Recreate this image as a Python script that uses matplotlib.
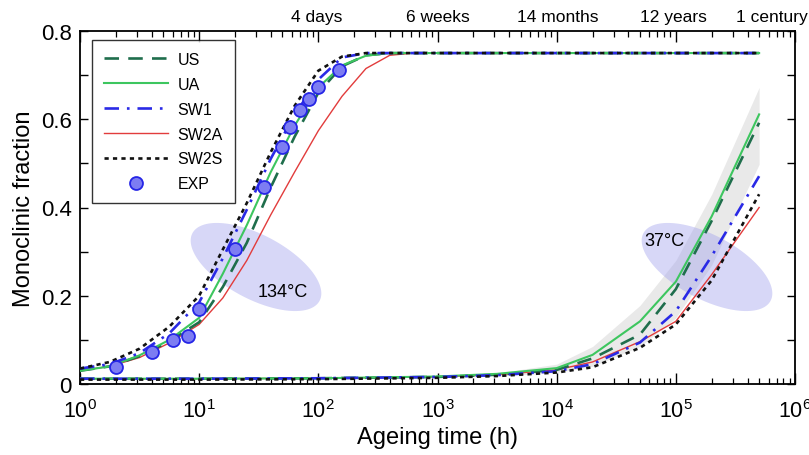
import numpy as np
import matplotlib
matplotlib.use("Agg")
import matplotlib.pyplot as plt
from matplotlib.patches import Polygon
from matplotlib.lines import Line2D
from matplotlib.transforms import ScaledTranslation

plt.rcParams['font.family'] = ['Liberation Sans', 'DejaVu Sans']
plt.rcParams['mathtext.fontset'] = 'custom'
plt.rcParams['mathtext.rm'] = 'Liberation Sans'
plt.rcParams['mathtext.it'] = 'Liberation Sans'

# ---------------- data ----------------
# 134 C ageing curves
t134 = [1, 1.78, 3.16, 5.62, 10, 15.8, 25.1, 39.8, 63.1, 100, 158, 251, 398, 631, 1000, 1e4, 1e5, 5e5]
us134 = [0.030, 0.040, 0.063, 0.097, 0.140, 0.220, 0.320, 0.445, 0.560, 0.660, 0.720, 0.745, 0.750, 0.750, 0.750, 0.750, 0.750, 0.750]
ua134 = [0.030, 0.040, 0.065, 0.100, 0.150, 0.250, 0.360, 0.480, 0.585, 0.672, 0.722, 0.744, 0.750, 0.750, 0.750, 0.750, 0.750, 0.750]
sw1_134 = [0.035, 0.045, 0.070, 0.115, 0.185, 0.285, 0.395, 0.510, 0.610, 0.690, 0.740, 0.750, 0.750, 0.750, 0.750, 0.750, 0.750, 0.750]
sw2a134 = [0.030, 0.040, 0.060, 0.093, 0.135, 0.195, 0.280, 0.383, 0.480, 0.574, 0.652, 0.715, 0.745, 0.750, 0.750, 0.750, 0.750, 0.750]
sw2s134 = [0.035, 0.050, 0.080, 0.130, 0.200, 0.305, 0.410, 0.525, 0.630, 0.710, 0.742, 0.750, 0.750, 0.750, 0.750, 0.750, 0.750, 0.750]

# 37 C ageing curves
t37 = [1, 10, 100, 1000, 3162, 1e4, 2e4, 5e4, 1e5, 2e5, 5e5]
us37 = [0.012, 0.012, 0.013, 0.016, 0.021, 0.032, 0.058, 0.112, 0.215, 0.370, 0.592]
ua37 = [0.012, 0.012, 0.013, 0.017, 0.023, 0.036, 0.066, 0.142, 0.232, 0.380, 0.611]
sw1_37 = [0.012, 0.012, 0.013, 0.016, 0.020, 0.029, 0.045, 0.094, 0.165, 0.290, 0.471]
sw2a37 = [0.012, 0.012, 0.013, 0.016, 0.021, 0.032, 0.050, 0.096, 0.142, 0.248, 0.400]
sw2s37 = [0.010, 0.010, 0.011, 0.014, 0.018, 0.026, 0.038, 0.082, 0.135, 0.235, 0.430]

# uncertainty band at 37 C
t_band = [3162, 1e4, 2e4, 5e4, 1e5, 2e5, 5e5]
band_hi = [0.025, 0.045, 0.085, 0.178, 0.280, 0.430, 0.672]
band_lo = [0.018, 0.026, 0.040, 0.085, 0.150, 0.270, 0.498]

# experimental points
t_exp = [2, 4, 6, 8, 10, 20, 35, 50, 58, 70, 84, 100, 148]
f_exp = [0.039, 0.073, 0.100, 0.109, 0.170, 0.306, 0.446, 0.536, 0.583, 0.620, 0.645, 0.674, 0.712]

# top-axis time labels
top_ticks = [96, 1008, 10220, 105120, 876600]
top_labels = ['4 days', '6 weeks', '14 months', '12 years', '1 century']

series = ['US', 'UA', 'SW1', 'SW2A', 'SW2S']

# ---------------- figure ----------------
W, H = 809, 456
fig = plt.figure(figsize=(W / 100, H / 100), dpi=100)
ax_l, ax_b, ax_r, ax_t = 80, 71, 795, 424   # pixel geometry of the axes box
ax = fig.add_axes([ax_l / W, ax_b / H, (ax_r - ax_l) / W, (ax_t - ax_b) / H])
ax.set_xscale('log')
ax.set_xlim(1, 1e6)
ax.set_ylim(0, 0.8)
axw, axh = ax_r - ax_l, ax_t - ax_b

def axpos(px, py):
    return (px - ax_l) / axw, (H - py - ax_b) / axh

# band
ax.fill_between(t_band, band_lo, band_hi, color='#e9e9e9', lw=0, zorder=1)

# ellipses (drawn in pixel space, converted to axes fraction)
def ellipse(cx_px, cy_px, a, b, ang):
    th = np.linspace(0, 2 * np.pi, 200)
    r = np.deg2rad(ang)
    x = a * np.cos(th) * np.cos(r) - b * np.sin(th) * np.sin(r)
    y = a * np.cos(th) * np.sin(r) + b * np.sin(th) * np.cos(r)
    px = (cx_px - ax_l + x) / axw
    py = (H - cy_px - ax_b + y) / axh
    ax.add_patch(Polygon(np.column_stack([px, py]), closed=True, transform=ax.transAxes,
                         facecolor='#a0a0ec', alpha=0.42, edgecolor='none', zorder=2))

ellipse(256, 268, 72, 32, -28)
ellipse(707, 268, 72, 32, -28)

styles = {
    'US':   dict(color='#1f6e4c', lw=1.9, dashes=(5.5, 3.5)),
    'UA':   dict(color='#3dc65f', lw=1.5),
    'SW1':  dict(color='#2a2ae6', lw=1.9, dashes=(5.5, 3, 1, 3)),
    'SW2A': dict(color='#e23c3c', lw=1.0),
    'SW2S': dict(color='#111111', lw=1.9, dashes=(1.6, 1.6)),
}
data134 = {'US': us134, 'UA': ua134, 'SW1': sw1_134, 'SW2A': sw2a134, 'SW2S': sw2s134}
data37 = {'US': us37, 'UA': ua37, 'SW1': sw1_37, 'SW2A': sw2a37, 'SW2S': sw2s37}
order = ['SW2A', 'US', 'UA', 'SW1', 'SW2S']
for name in order:
    ax.plot(t134, data134[name], zorder=3, **styles[name])
    ax.plot(t37, data37[name], zorder=3, **styles[name])

ax.plot(t_exp, f_exp, 'o', ms=9.3, mfc='#7d7df2', mec='#2626e6', mew=1.3, zorder=5)

for s, (cx, cy) in [('134°C', (283, 293)), ('37°C', (664, 242))]:
    x, y = axpos(cx, cy)
    ax.text(x, y, s, transform=ax.transAxes, fontsize=13, ha='center', va='center', zorder=6)

# ticks
ax.tick_params(axis='both', which='both', direction='in', top=True, right=True)
ax.tick_params(axis='x', which='major', length=8, width=1.0, labelsize=15.5, pad=11)
ax.tick_params(axis='x', which='minor', length=4, width=0.9)
ax.tick_params(axis='y', which='major', length=6, width=1.0, labelsize=16, pad=6)
ax.tick_params(axis='y', which='minor', length=6, width=1.0)
ax.set_yticks([0, 0.2, 0.4, 0.6, 0.8])
ax.set_yticklabels(['0', '0.2', '0.4', '0.6', '0.8'])
ax.set_yticks([0.1, 0.3, 0.5, 0.7], minor=True)
for sp in ax.spines.values():
    sp.set_linewidth(1.3)

sec = ax.secondary_xaxis('top')
sec.set_xticks(top_ticks)
sec.set_xticklabels(top_labels)
sec.xaxis.set_minor_locator(matplotlib.ticker.NullLocator())
sec.tick_params(axis='x', which='major', length=0, labelsize=12.5, pad=5)
sec.spines['top'].set_visible(False)
labs = sec.get_xticklabels()
labs[3].set_transform(labs[3].get_transform() + ScaledTranslation(-0.05, 0, fig.dpi_scale_trans))
labs[4].set_transform(labs[4].get_transform() + ScaledTranslation(-0.16, 0, fig.dpi_scale_trans))

ax.set_xlabel('Ageing time (h)', fontsize=17, labelpad=3)
ax.set_ylabel('Monoclinic fraction', fontsize=17, labelpad=4)

handles = [Line2D([], [], **styles[n]) for n in series]
handles.append(Line2D([], [], marker='o', ls='none', ms=9.3, mfc='#7d7df2', mec='#2626e6', mew=1.3))
leg = ax.legend(handles, series + ['EXP'], loc='upper left', bbox_to_anchor=(0.017, 0.975),
                fontsize=11.5, frameon=True, fancybox=False, edgecolor='black', handlelength=4.0,
                handletextpad=0.6, labelspacing=0.62, borderpad=0.75, borderaxespad=0)
leg.get_frame().set_linewidth(1.0)

fig.savefig('out.png', dpi=100)
